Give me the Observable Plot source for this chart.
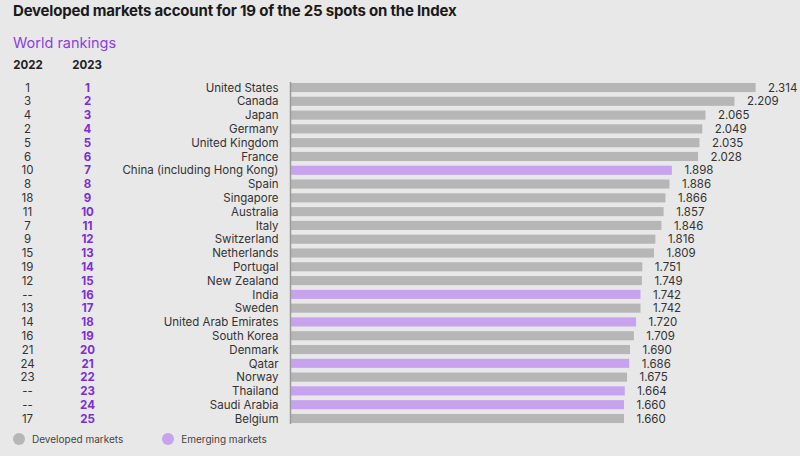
<!DOCTYPE html>
<html>
<head>
<meta charset="utf-8">
<script src="https://cdn.jsdelivr.net/npm/d3@7"></script>
<script src="https://cdn.jsdelivr.net/npm/@observablehq/plot@0.6"></script>
<style>
  html, body { margin: 0; padding: 0; background: #e8e8e8; }
  body { width: 800px; height: 456px; overflow: hidden; font-family: Inter, "Noto Sans", sans-serif; position: relative; }
  #title { position: absolute; left: 13px; top: 1px; font-size: 15px; font-weight: 700; color: #1a1a1a; letter-spacing: -0.2px; }
  #sub { position: absolute; left: 13px; top: 34px; font-size: 14.5px; font-weight: 400; color: #8c3fe0; }
  .yr { position: absolute; top: 58px; font-size: 11.5px; font-weight: 700; color: #222; width: 40px; text-align: center; }
  #chart { position: absolute; left: 0; top: 76px; }
  #chart svg { display: block; }
  #legend { position: absolute; left: 13px; top: 433px; font-size: 10px; color: #444; display: flex; align-items: center; }
  .sw { display: inline-block; width: 12px; height: 12px; border-radius: 50%; margin-right: 7px; }
  .item { display: flex; align-items: center; margin-right: 39px; }
</style>
</head>
<body>
<div id="title">Developed markets account for 19 of the 25 spots on the Index</div>
<div id="sub">World rankings</div>
<div class="yr" style="left:8px">2022</div>
<div class="yr" style="left:67px">2023</div>
<div id="chart"></div>
<div id="legend">
  <div class="item"><span class="sw" style="background:#b6b6b6"></span>Developed markets</div>
  <div class="item"><span class="sw" style="background:#c7a3ef"></span>Emerging markets</div>
</div>
<script>
const countries = ["United States","Canada","Japan","Germany","United Kingdom","France","China (including Hong Kong)","Spain","Singapore","Australia","Italy","Switzerland","Netherlands","Portugal","New Zealand","India","Sweden","United Arab Emirates","South Korea","Denmark","Qatar","Norway","Thailand","Saudi Arabia","Belgium"];
const values = [2.314,2.209,2.065,2.049,2.035,2.028,1.898,1.886,1.866,1.857,1.846,1.816,1.809,1.751,1.749,1.742,1.742,1.720,1.709,1.690,1.686,1.675,1.664,1.660,1.660];
const valueLabels = ["2.314","2.209","2.065","2.049","2.035","2.028","1.898","1.886","1.866","1.857","1.846","1.816","1.809","1.751","1.749","1.742","1.742","1.720","1.709","1.690","1.686","1.675","1.664","1.660","1.660"];
const rank2022 = ["1","3","4","2","5","6","10","8","18","11","7","9","15","19","12","--","13","14","16","21","24","23","--","--","17"];
const rank2023 = ["1","2","3","4","5","6","7","8","9","10","11","12","13","14","15","16","17","18","19","20","21","22","23","24","25"];
const markets = ["Developed","Developed","Developed","Developed","Developed","Developed","Emerging","Developed","Developed","Developed","Developed","Developed","Developed","Developed","Developed","Emerging","Developed","Emerging","Developed","Developed","Emerging","Developed","Emerging","Emerging","Developed"];

const data = countries.map((c, i) => ({
  country: c, value: values[i], label: valueLabels[i],
  r22: rank2022[i], r23: rank2023[i], market: markets[i]
}));

const chart = Plot.plot({
  width: 800,
  height: 350,
  marginLeft: 290,
  marginRight: 7,
  marginTop: 6,
  marginBottom: 2,
  style: { background: "transparent", fontFamily: "Inter, 'Noto Sans', sans-serif", overflow: "visible" },
  x: { domain: [0, 2.5], axis: null },
  y: { domain: countries, axis: null, paddingInner: 0.34, paddingOuter: 0.07, round: false },
  color: { domain: ["Developed", "Emerging"], range: ["#b6b6b6", "#c7a3ef"] },
  marks: [
    Plot.barX(data, { x: "value", y: "country", fill: "market" }),
    Plot.ruleX([0], { stroke: "#9a9a9a", strokeWidth: 1.5 }),
    Plot.text(data, { x: "value", y: "country", text: "label", textAnchor: "start", dx: 12, fill: "#333", fontSize: 11.5 }),
    Plot.text(data, { x: 0, y: "country", text: "country", textAnchor: "end", dx: -12, fill: "#333", fontSize: 11.5 }),
    Plot.text(data, { x: 0, y: "country", text: "r22", textAnchor: "middle", dx: -263, fill: "#333", fontSize: 11.5 }),
    Plot.text(data, { x: 0, y: "country", text: "r23", textAnchor: "middle", dx: -203, fill: "#7a2fd6", fontSize: 11.5, fontWeight: 700 })
  ]
});
document.getElementById("chart").appendChild(chart);
</script>
</body>
</html>
